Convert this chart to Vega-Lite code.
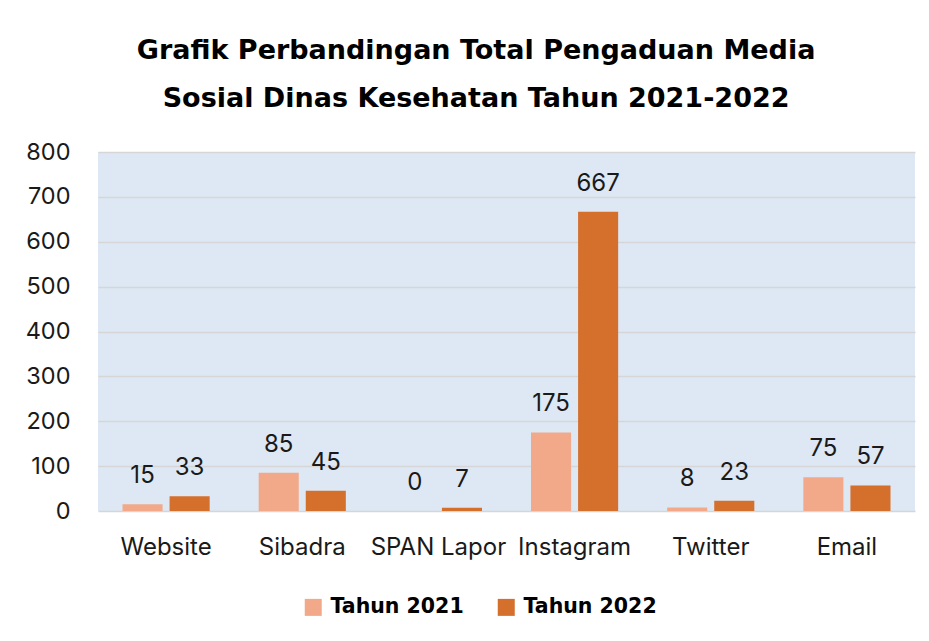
{
  "$schema": "https://vega.github.io/schema/vega-lite/v6.json",
  "width": 817,
  "height": 359,
  "autosize": {"type": "none"},
  "padding": {"left": 98, "top": 152, "right": 14, "bottom": 130},
  "background": "white",
  "title": {
    "text": ["Grafik Perbandingan Total Pengaduan Media", "Sosial Dinas Kesehatan Tahun 2021-2022"],
    "font": "DejaVu Sans",
    "fontSize": 27,
    "fontWeight": "bold",
    "color": "black",
    "lineHeight": 48,
    "frame": "bounds",
    "anchor": "middle",
    "offset": 6,
    "dx": 6,
    "baseline": "alphabetic"
  },
  "data": {
    "values": [
      {"kategori": "Website", "tahun": "Tahun 2021", "jumlah": 15},
      {"kategori": "Website", "tahun": "Tahun 2022", "jumlah": 33},
      {"kategori": "Sibadra", "tahun": "Tahun 2021", "jumlah": 85},
      {"kategori": "Sibadra", "tahun": "Tahun 2022", "jumlah": 45},
      {"kategori": "SPAN Lapor", "tahun": "Tahun 2021", "jumlah": 0},
      {"kategori": "SPAN Lapor", "tahun": "Tahun 2022", "jumlah": 7},
      {"kategori": "Instagram", "tahun": "Tahun 2021", "jumlah": 175},
      {"kategori": "Instagram", "tahun": "Tahun 2022", "jumlah": 667},
      {"kategori": "Twitter", "tahun": "Tahun 2021", "jumlah": 8},
      {"kategori": "Twitter", "tahun": "Tahun 2022", "jumlah": 23},
      {"kategori": "Email", "tahun": "Tahun 2021", "jumlah": 75},
      {"kategori": "Email", "tahun": "Tahun 2022", "jumlah": 57}
    ]
  },
  "config": {
    "view": {"fill": "#DDE8F4", "stroke": null},
    "font": "Inter"
  },
  "encoding": {
    "x": {
      "field": "kategori",
      "type": "nominal",
      "sort": ["Website", "Sibadra", "SPAN Lapor", "Instagram", "Twitter", "Email"],
      "scale": {"paddingInner": 0.36, "paddingOuter": 0.18},
      "axis": {
        "title": null,
        "labelAngle": 0,
        "domain": false,
        "ticks": false,
        "labelPadding": 24,
        "labelFontSize": 24,
        "labelColor": "#1a1a1a",
        "labelFont": "Inter"
      }
    },
    "xOffset": {
      "field": "tahun",
      "type": "nominal",
      "scale": {"paddingInner": 0.149, "paddingOuter": 0}
    },
    "y": {
      "field": "jumlah",
      "type": "quantitative",
      "scale": {"domain": [0, 800], "nice": false},
      "axis": {
        "title": null,
        "values": [0, 100, 200, 300, 400, 500, 600, 700, 800],
        "domain": false,
        "ticks": false,
        "labelPadding": 28,
        "labelFontSize": 23.5,
        "labelColor": "#1a1a1a",
        "labelFont": "Inter",
        "gridColor": "#D6D6D6",
        "gridWidth": 1.5
      }
    }
  },
  "layer": [
    {
      "mark": {"type": "bar"},
      "encoding": {
        "color": {
          "field": "tahun",
          "type": "nominal",
          "scale": {"domain": ["Tahun 2021", "Tahun 2022"], "range": ["#F2A98A", "#D46F2C"]},
          "legend": {
            "title": null,
            "orient": "none",
            "legendX": 205,
            "legendY": 445,
            "direction": "horizontal",
            "symbolType": "square",
            "symbolSize": 289,
            "symbolStrokeWidth": 0,
            "labelOffset": 7,
            "columnPadding": 32,
            "labelFont": "DejaVu Sans",
            "labelFontSize": 20.5,
            "labelFontWeight": "bold",
            "labelColor": "black",
            "padding": 0
          }
        }
      }
    },
    {
      "mark": {"type": "text", "dy": -21, "baseline": "alphabetic", "fontSize": 24, "color": "#1a1a1a", "font": "Inter"},
      "encoding": {
        "text": {"field": "jumlah", "type": "quantitative"}
      }
    }
  ]
}
